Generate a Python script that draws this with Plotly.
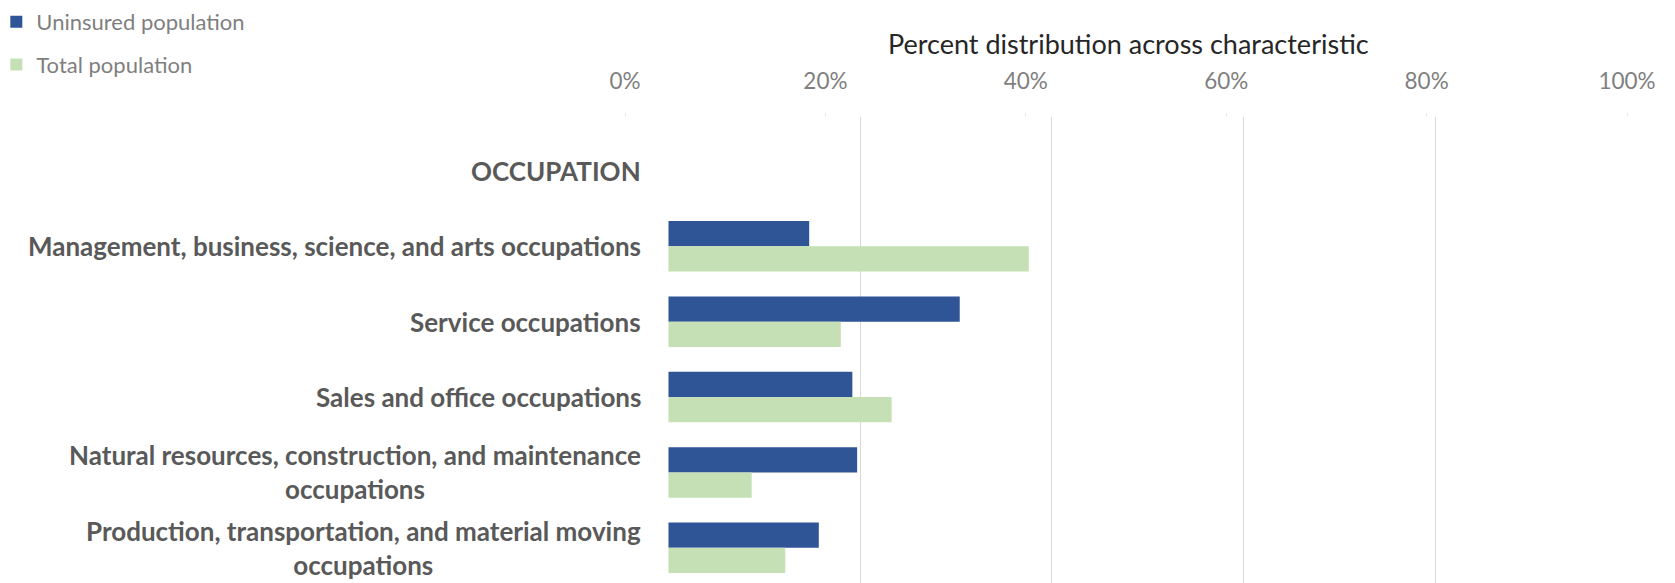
import plotly.graph_objects as go

categories = [
    "OCCUPATION",
    "Management, business, science, and arts occupations",
    "Service occupations",
    "Sales and office occupations",
    "Natural resources, construction, and maintenance<br>occupations",
    "Production, transportation, and material moving<br>occupations",
]
uninsured = [None, 14.7, 30.4, 19.2, 19.7, 15.7]
total = [None, 37.6, 18.0, 23.3, 8.7, 12.2]
tick_vals = [0, 20, 40, 60, 80, 100]
tick_text = ["0%", "20%", "40%", "60%", "80%", "100%"]

FONT = "Lato"
OFF = 8  # the page body adds an 8px margin around the figure
W, H = 1675 - OFF, 583 - OFF
ML, MR, MT, MB = 625 - OFF, 47.5, 117 - OFF, 0
plot_w = W - ML - MR
plot_h = H - MT - MB

fig = go.Figure()
fig.add_trace(go.Bar(
    y=categories, x=uninsured, orientation="h", name="Uninsured population",
    marker=dict(color="#2F5597", line=dict(width=0)), legendgroup="a",
    xaxis="x", yaxis="y",
))
fig.add_trace(go.Bar(
    y=categories, x=total, orientation="h", name="Total population",
    marker=dict(color="#C5E0B4", line=dict(width=0)), legendgroup="b",
    xaxis="x", yaxis="y",
))
# empty trace so the labelled top axis is drawn
fig.add_trace(go.Scatter(x=[], y=[], xaxis="x2", yaxis="y", showlegend=False, hoverinfo="skip"))

for c in categories:
    fig.add_annotation(
        text=c, xref="paper", yref="y", x=(643 - OFF - ML) / plot_w, y=c,
        xanchor="right", yanchor="middle", align="center", showarrow=False,
        font=dict(family=FONT, size=26, color="#595959", weight="bold"),
    )

fig.add_annotation(
    text="Percent distribution across characteristic", xref="paper", yref="paper",
    x=0.502, y=1 + (MT - (43 - OFF)) / plot_h, xanchor="center", yanchor="middle",
    showarrow=False, font=dict(family=FONT, size=27, color="#262626"),
)

fig.update_layout(
    width=W, height=H,
    margin=dict(l=ML, r=MR, t=MT, b=MB, pad=0, autoexpand=False),
    paper_bgcolor="white", plot_bgcolor="rgba(0,0,0,0)",
    barmode="group", bargap=0.33, bargroupgap=0,
    font=dict(family=FONT),
    xaxis=dict(
        domain=[(668.3 - OFF - ML) / plot_w, 1], range=[0, 100], side="top",
        showticklabels=False, ticks="", showgrid=True, gridcolor="#d9d9d9",
        gridwidth=1, zeroline=False, showline=False, tickvals=tick_vals,
        fixedrange=True,
    ),
    xaxis2=dict(
        domain=[0, 1], range=[0, 100], side="top", anchor="y",
        tickvals=tick_vals, ticktext=tick_text, showgrid=False, zeroline=False,
        showline=False, ticks="outside", ticklen=3, tickcolor="#e6e6e6",
        tickfont=dict(family=FONT, size=22.5, color="#7f7f7f"), ticklabelstandoff=15,
    ),
    yaxis=dict(
        categoryorder="array", categoryarray=categories,
        range=[5.466, -0.715], showticklabels=False, showgrid=False,
        zeroline=False, showline=False, ticks="",
    ),
    showlegend=True,
    legend=dict(
        xref="paper", yref="paper", x=(-12 - ML) / plot_w, y=1 + (MT + 7) / plot_h,
        xanchor="left", yanchor="top",
        orientation="v", traceorder="grouped", tracegroupgap=11,
        font=dict(family=FONT, size=22, color="#7f7f7f"), bgcolor="rgba(0,0,0,0)",
        itemwidth=30,
    ),
)

fig.write_html("out.html")
